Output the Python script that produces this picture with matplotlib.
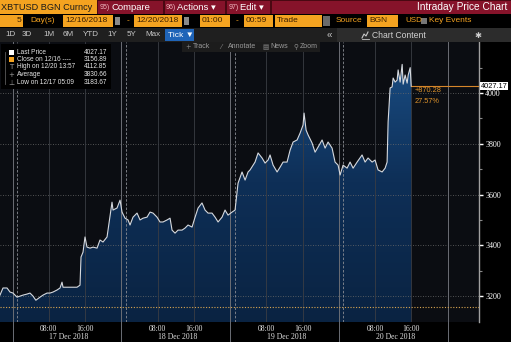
import matplotlib
import numpy as np

matplotlib.use("Agg")
import matplotlib.pyplot as plt
from matplotlib.colors import LinearSegmentedColormap
from matplotlib.lines import Line2D
from matplotlib.patches import Rectangle
from matplotlib.transforms import blended_transform_factory

# XBTUSD ticks, hours since 17 Dec 2018 00:00
hours = [
    -2.76, -2.10, -1.21, -0.55, 0.11, 0.99, 1.65, 2.32, 3.20, 3.86,
    4.52, 5.15, 6.07, 6.73, 7.61, 8.27, 8.93, 9.82, 10.48, 10.92,
    11.14, 12.02, 12.68, 13.35, 14.23, 14.89, 15.11, 15.55, 15.99, 16.43,
    17.10, 17.76, 18.64, 19.30, 19.96, 20.85, 21.07, 21.95, 22.17, 23.05,
    23.72, 24.16, 24.82, 25.48, 25.92, 26.58, 27.47, 28.13, 28.79, 29.67,
    30.34, 31.00, 31.88, 32.54, 33.20, 34.09, 34.75, 35.19, 35.85, 36.51,
    37.40, 38.06, 38.72, 39.60, 40.27, 40.93, 41.80, 42.47, 43.13, 44.01,
    44.68, 45.34, 46.22, 46.88, 47.54, 48.43, 49.09, 49.75, 50.63, 51.30,
    51.96, 52.40, 53.50, 54.17, 55.05, 55.71, 56.37, 56.81, 57.48, 58.36,
    59.02, 59.68, 60.56, 61.23, 61.89, 62.77, 63.43, 64.09, 64.31, 64.76,
    65.20, 66.08, 66.74, 67.40, 68.29, 68.95, 69.61, 70.49, 71.15, 71.82,
    72.26, 72.92, 73.80, 74.46, 75.13, 76.01, 77.11, 77.77, 78.43, 79.32,
    79.98, 80.64, 81.53, 82.19, 82.63, 82.85, 83.29, 83.73, 83.96, 84.40,
    84.84, 85.06, 85.50, 85.95, 86.17, 86.61, 87.05, 87.28, 87.72, 87.94,
]
price = [
    3204, 3232, 3232, 3216, 3212, 3196, 3200, 3204, 3208, 3212,
    3200, 3183.67, 3196, 3204, 3212, 3212, 3216, 3224, 3232, 3255,
    3235, 3235, 3235, 3235, 3235, 3243, 3354, 3373, 3433, 3393,
    3389, 3393, 3389, 3421, 3413, 3433, 3460, 3570, 3539, 3547,
    3578, 3531, 3507, 3500, 3480, 3511, 3527, 3500, 3507, 3511,
    3531, 3527, 3511, 3492, 3492, 3500, 3507, 3460, 3448, 3460,
    3460, 3468, 3480, 3472, 3511, 3547, 3567, 3539, 3527, 3527,
    3511, 3492, 3511, 3539, 3519, 3531, 3539, 3645, 3689, 3657,
    3689, 3697, 3728, 3764, 3744, 3724, 3736, 3756, 3716, 3689,
    3708, 3728, 3728, 3775, 3807, 3815, 3842, 3874, 3921, 3854,
    3835, 3803, 3767, 3787, 3815, 3783, 3807, 3783, 3728, 3716,
    3677, 3716, 3704, 3728, 3704, 3728, 3756, 3728, 3744, 3728,
    3736, 3697, 3689, 3704, 3728, 3886, 4020, 4024, 4059, 4043,
    4051, 4091, 4043, 4112.85, 4035, 4071, 4039, 4071, 4100, 4027.17,
]

last_price = 4027.17
prev_close = 3156.89
change_text = ["+870.28", "27.57%"]

legend_labels = ["Last Price", "Close on 12/16 ----", "High on 12/20 13:57", "Average", "Low on 12/17 05:09"]
legend_values = ["4027.17", "3156.89", "4112.85", "3830.66", "3183.67"]

y_ticks = [3200, 3400, 3600, 3800, 4000]
y_minor = [3300, 3500, 3700, 3900, 4100]
x_ticks = [8, 16, 32, 40, 56, 64, 80, 88]
x_tick_labels = ["08:00", "16:00"] * 4
day_start = [0, 24, 48, 72, 96]
day_labels = ["17 Dec 2018", "18 Dec 2018", "19 Dec 2018", "20 Dec 2018"]

W, H = 511, 342
ORANGE = "#f4a320"
BOX_TEXT = "#3a1e00"
SERIF = "Liberation Serif"
SANS = ["Liberation Sans", "DejaVu Sans"]

fig = plt.figure(figsize=(W / 100, H / 100), dpi=100, facecolor="black")


def fx(x):
    return x / W


def fy(y):
    return 1 - y / H


def box(x0, y0, x1, y1, color, z=1):
    fig.add_artist(Rectangle((fx(x0), fy(y1)), (x1 - x0) / W, (y1 - y0) / H,
                             transform=fig.transFigure, facecolor=color,
                             edgecolor="none", zorder=z))


def txt(x, y, s, color, size=6.0, ha="left", family=SANS, **kw):
    fig.text(fx(x), fy(y), s, color=color, fontsize=size, ha=ha, va="center",
             family=family, zorder=6, **kw)


def seg(xs, ys, color, lw=0.6, z=6):
    fig.add_artist(Line2D([fx(v) for v in xs], [fy(v) for v in ys],
                          color=color, lw=lw, zorder=z))


# ---- chart ----
ax = fig.add_axes([0, 20 / H, 479 / W, 280 / H])
ax.set_facecolor("#0b0d12")
xmin, xmax = -2.76, 102.9
ymin, ymax = 3098, 4201

poly = ax.fill_between(hours, price, ymin, facecolor="none", edgecolor="none")
grad = np.linspace(0, 1, 256).reshape(-1, 1)
cmap = LinearSegmentedColormap.from_list("fill", ["#0a2342", "#0e2f57", "#1b5088"])
im = ax.imshow(grad, cmap=cmap, aspect="auto", origin="lower",
               extent=[xmin, xmax, ymin, ymax], zorder=1)
im.set_clip_path(poly.get_paths()[0], transform=ax.transData)

for v in y_ticks:
    ax.axhline(v, color="#6a6a6a", lw=0.6, ls=(0, (1, 2)), zorder=2)
for h in x_ticks:
    ax.axvline(h, color="#3a3d44", lw=0.6, zorder=2)
for d in day_start:
    ax.axvline(d, ymin=-0.072, color="#6b6e75", lw=0.7, zorder=2, clip_on=False)
for d in day_start[:4]:
    ax.axvline(d + 1, color="#8a8d94", lw=0.6, ls=(0, (3, 2)), zorder=2)

ax.axhline(prev_close, color="#d9a550", lw=0.8, ls=(0, (1, 1.5)), zorder=3)
ax.plot(hours, price, color="#d6d9de", lw=0.8, zorder=4)
ax.plot([hours[-1], xmax], [last_price, last_price], color="#d7862a", lw=0.8, zorder=3)
ax.text(88.6, 4008, change_text[0], color="#e0942c", fontsize=5.3, family=SANS, va="center", zorder=5)
ax.text(88.6, 3968, change_text[1], color="#e0942c", fontsize=5.3, family=SANS, va="center", zorder=5)

ax.set_xlim(xmin, xmax)
ax.set_ylim(ymin, ymax)

for side in ["top", "left", "bottom"]:
    ax.spines[side].set_visible(False)
ax.spines["right"].set_color("#a0a0a0")
ax.spines["right"].set_linewidth(1.0)

ax.yaxis.tick_right()
ax.set_yticks(y_ticks)
ax.set_yticklabels([str(v) for v in y_ticks], family=SERIF)
ax.set_yticks(y_minor, minor=True)
ax.tick_params(axis="y", which="major", colors="white", labelsize=5.8, length=3, width=1, pad=1.5)
ax.tick_params(axis="y", which="minor", colors="#888888", length=2, width=0.8)

ax.set_xticks(x_ticks)
ax.set_xticklabels(x_tick_labels, family=SERIF)
ax.tick_params(axis="x", colors="#e0e0e0", labelsize=5.6, length=0, pad=2)

trans = blended_transform_factory(ax.transData, ax.transAxes)
for d, lab in zip(day_start, day_labels):
    ax.text(d + 12.5, -0.052, lab, transform=trans, ha="center", va="center",
            color="#e0e0e0", fontsize=5.6, family=SERIF, clip_on=False)

ax.text(1.004, last_price, f"{last_price:.2f}", transform=ax.get_yaxis_transform(),
        ha="left", va="center", color="black", fontsize=5.3, family=SANS, clip_on=False,
        bbox=dict(facecolor="white", edgecolor="none", pad=0.6), zorder=6)

# ---- header rows ----
box(0, 0, 97, 14, ORANGE)
box(97, 0, W, 14, "#4a0812")
box(98, 1, 163, 14, "#86132a")
box(165, 1, 225, 14, "#86132a")
box(227, 1, 270, 14, "#86132a")
box(272, 1, W, 14, "#86132a")
txt(1, 7.5, "XBTUSD BGN Curncy", "#1a1a1a", size=6.6)
for x, num, word in [(100, "95)", "Compare"), (166, "96)", "Actions ▾"), (229, "97)", "Edit ▾")]:
    txt(x, 7.5, num, "#f0b8c0", size=5.0)
    txt(x + 11, 7.5, word, "white", size=6.8)
txt(507, 7.5, "Intraday Price Chart", "white", size=7.3, ha="right")

for x0, x1, s in [(0, 23, "5"), (63, 113, "12/16/2018"), (134, 182, "12/20/2018"),
                  (200, 230, "01:00"), (244, 273, "00:59"), (275, 322, "Trade"), (367, 398, "BGN")]:
    box(x0, 15, x1, 27, ORANGE)
    if s == "5":
        txt(x1 - 2, 21, s, BOX_TEXT, ha="right")
    else:
        txt(x0 + 2, 21, s, BOX_TEXT)
for x0 in [115, 184]:
    box(x0, 17, x0 + 5, 25, "#8a8a8a")
box(323, 16, 330, 26, "#6a6a6a")
box(421, 18, 427, 24, "#777777")
txt(30, 21, "Day(s)", ORANGE)
txt(127, 21, "-", ORANGE)
txt(236, 21, "-", ORANGE)
txt(336, 21, "Source", ORANGE)
txt(405, 21, "USD", ORANGE, size=5.8)
txt(429, 21, "Key Events", ORANGE)

box(0, 28, W, 42, "#1f1f1f")
box(337, 28, W, 42, "#2c2c2c")
for x, s in [(5, "1D"), (22, "3D"), (43, "1M"), (63, "6M"), (83, "YTD"), (107, "1Y"), (127, "5Y"), (145, "Max")]:
    txt(x, 35, s, "#c8c8c8", size=5.8)
box(165, 29, 194, 41, "#1f64b8")
txt(168, 35, "Tick ▼", "white", size=6)
txt(329, 35, "«", "#c8c8c8", size=7, ha="center")
txt(372, 35, "Chart Content", "#d0d0d0", size=6.2)
seg([362, 364, 366, 368], [38, 34, 36, 32], "#c8c8c8", lw=0.8)
seg([362, 369], [38.5, 38.5], "#c8c8c8", lw=0.6)
txt(478, 35, "✱", "#d0d0d0", size=6, ha="center", family="DejaVu Sans")

# toolbar overlay
box(182, 42, 320, 52, "#1c1c1c", z=5)
for x, s in [(185, "+"), (220, "⁄"), (262, "▤"), (293, "⚲")]:
    txt(x, 47, s, "#8a8a8a", size=4.8, family="DejaVu Sans")
for x, s in [(193, "Track"), (228, "Annotate"), (270, "News"), (300, "Zoom")]:
    txt(x, 47, s, "#9a9a9a", size=5.0)

# legend overlay
box(1, 44, 111, 89, "black", z=5)
seg([5, 5], [52, 84], "#5a5a5a")
rows = [52, 59.5, 67, 75, 83]
box(9, 49.5, 14, 54.5, "white", z=6)
box(9, 57, 14, 62, ORANGE, z=6)
txt(11.5, 67, "T", "#9a9a9a", size=5, ha="center", family="DejaVu Sans")
txt(11.5, 75, "+", "#9a9a9a", size=5, ha="center", family="DejaVu Sans")
txt(11.5, 83, "⊥", "#9a9a9a", size=5, ha="center", family="DejaVu Sans")
for y, lab, val in zip(rows, legend_labels, legend_values):
    txt(17, y, lab, "#e6e6e6", size=4.7)
    txt(107, y, val, "#e6e6e6", size=4.7, ha="right")

fig.savefig("out.png", dpi=100, facecolor="black")
plt.close(fig)
